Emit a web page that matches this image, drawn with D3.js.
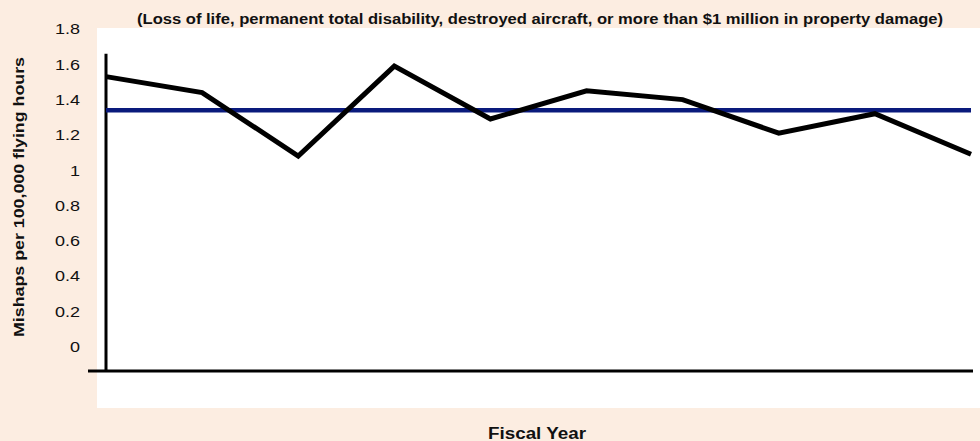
<!DOCTYPE html>
<html>
<head>
<meta charset="utf-8">
<script src="https://cdn.jsdelivr.net/npm/d3@7"></script>
<style>
  html, body { margin: 0; padding: 0; background: #fcede1; }
  svg { display: block; }
  text { font-family: "Liberation Sans", Arial, Helvetica, sans-serif; fill: #111; }
</style>
</head>
<body>
<svg id="chart" width="980" height="441"></svg>
<script>
// ---- data ----
const years = ["Y1", "Y2", "Y3", "Y4", "Y5", "Y6", "Y7", "Y8", "Y9", "Y10"];
const mishapRate = [1.53, 1.44, 1.08, 1.59, 1.29, 1.45, 1.40, 1.21, 1.32, 1.09];
const averageRate = [1.34, 1.34, 1.34, 1.34, 1.34, 1.34, 1.34, 1.34, 1.34, 1.34];
const yTickValues = [0, 0.2, 0.4, 0.6, 0.8, 1, 1.2, 1.4, 1.6, 1.8];
const yTickLabels = ["0", "0.2", "0.4", "0.6", "0.8", "1", "1.2", "1.4", "1.6", "1.8"];
const titleText = "(Loss of life, permanent total disability, destroyed aircraft, or more than $1 million in property damage)";
const yTitle = "Mishaps per 100,000 flying hours";
const xTitle = "Fiscal Year";
const axisLow = -0.137;   // value where the horizontal axis line sits
const axisHigh = 1.66;    // top of vertical axis line

// ---- layout ----
const svg = d3.select("#chart");
const W = 980, H = 441;

const x = d3.scalePoint().domain(years).range([106, 971]);
const y = d3.scaleLinear().domain([0, 1.8]).range([346.7, 29]);

// white plotting panel
svg.append("rect")
  .attr("x", 97).attr("y", 28)
  .attr("width", W - 97).attr("height", 380)
  .attr("fill", "#ffffff");

// title
svg.append("text")
  .attr("x", 540).attr("y", 23.5)
  .attr("text-anchor", "middle")
  .attr("font-weight", "bold")
  .attr("font-size", "14px")
  .attr("textLength", 806)
  .attr("lengthAdjust", "spacingAndGlyphs")
  .text(titleText);

// y tick labels via axis
const tickScale = 1.2;
const yAxis = d3.axisLeft(y)
  .tickValues(yTickValues)
  .tickFormat((d, i) => yTickLabels[i])
  .tickSize(0)
  .tickPadding(26);
const gy = svg.append("g").attr("transform", "translate(106,0)").call(yAxis);
gy.select(".domain").remove();
gy.selectAll("text")
  .attr("font-size", "15px")
  .attr("font-family", "'Liberation Sans', Arial, sans-serif")
  .attr("fill", "#111")
  .attr("x", -26 / tickScale)
  .attr("transform", `scale(${tickScale},1)`);

// y axis title
svg.append("text")
  .attr("transform", "translate(24,197) rotate(-90)")
  .attr("text-anchor", "middle")
  .attr("font-weight", "bold")
  .attr("font-size", "15px")
  .attr("textLength", 280)
  .attr("lengthAdjust", "spacingAndGlyphs")
  .text(yTitle);

// x axis title
svg.append("text")
  .attr("x", 537).attr("y", 439)
  .attr("text-anchor", "middle")
  .attr("font-weight", "bold")
  .attr("font-size", "16px")
  .attr("textLength", 98)
  .attr("lengthAdjust", "spacingAndGlyphs")
  .text(xTitle);

// axis lines
svg.append("line")
  .attr("x1", 88).attr("x2", 973)
  .attr("y1", y(axisLow)).attr("y2", y(axisLow))
  .attr("stroke", "#000").attr("stroke-width", 3);
svg.append("line")
  .attr("x1", x(years[0])).attr("x2", x(years[0]))
  .attr("y1", y(axisHigh)).attr("y2", y(axisLow))
  .attr("stroke", "#000").attr("stroke-width", 3);

// average line
const line = d3.line().x((d, i) => x(years[i])).y(d => y(d));
svg.append("path")
  .datum(averageRate)
  .attr("d", line)
  .attr("fill", "none")
  .attr("stroke", "#0a1a7c")
  .attr("stroke-width", 4.5);

// mishap rate line
svg.append("path")
  .datum(mishapRate)
  .attr("d", line)
  .attr("fill", "none")
  .attr("stroke", "#000")
  .attr("stroke-width", 5)
  .attr("stroke-linejoin", "miter");
</script>
</body>
</html>
